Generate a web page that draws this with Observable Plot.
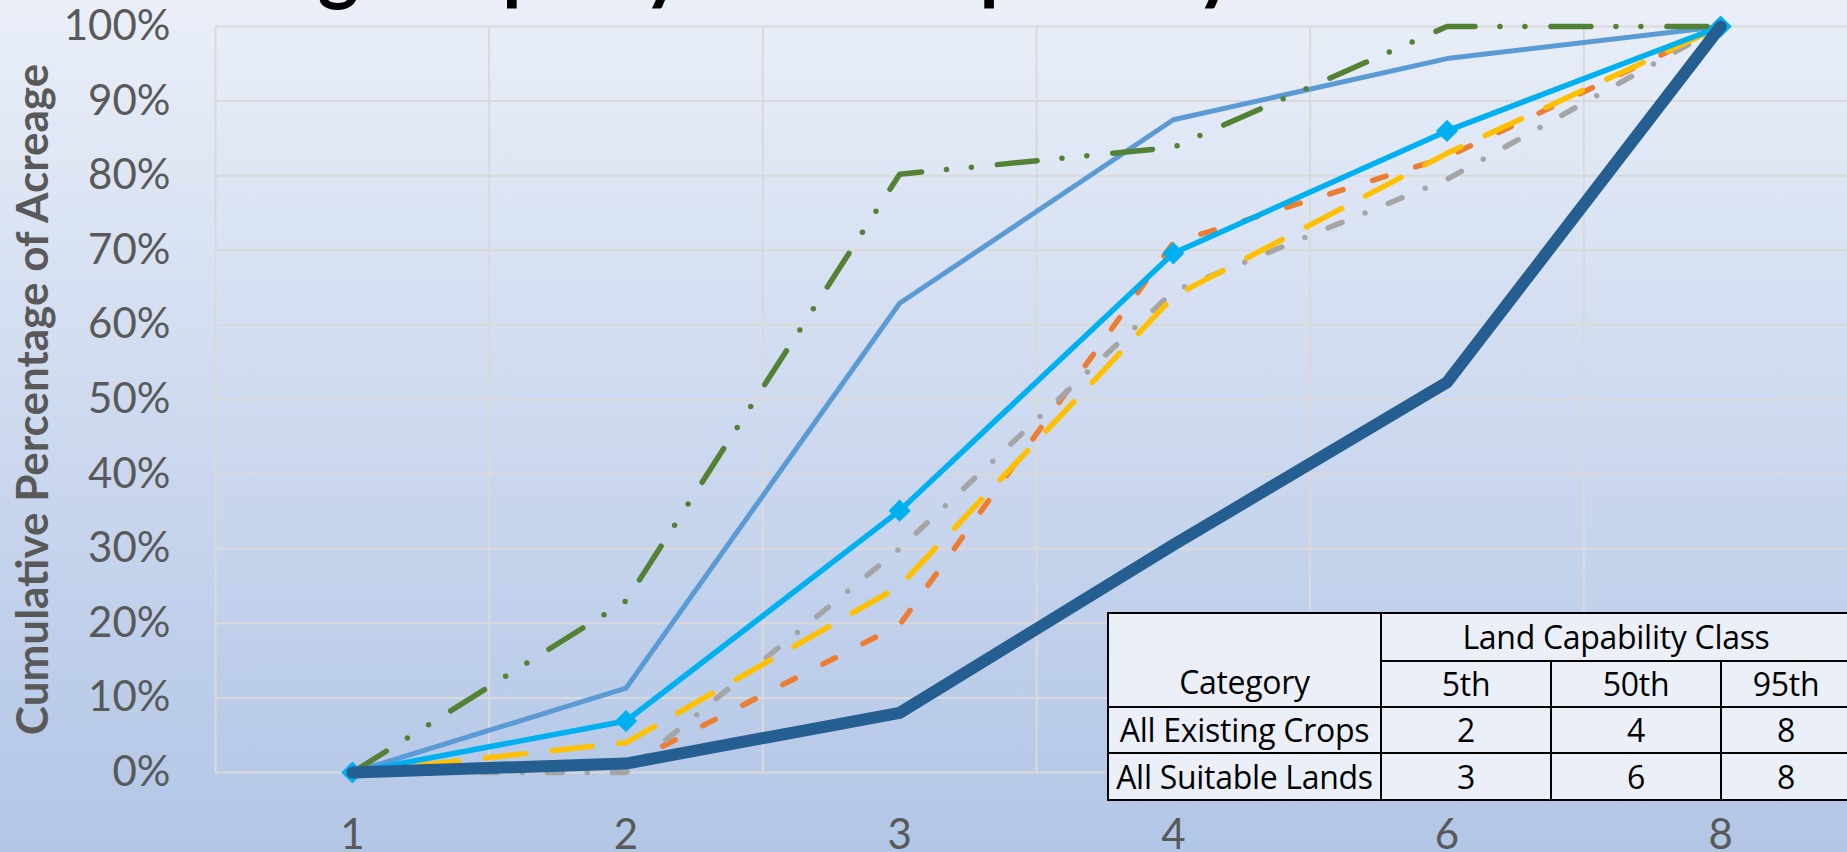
<!DOCTYPE html>
<html>
<head>
<meta charset="utf-8">
<script src="https://cdn.jsdelivr.net/npm/d3@7"></script>
<script src="https://cdn.jsdelivr.net/npm/@observablehq/plot@0.6"></script>
<style>
  html, body { margin: 0; padding: 0; overflow: hidden; }
  #chart {
    position: relative; width: 1847px; height: 852px; overflow: hidden;
    background: linear-gradient(180deg, #EAEFF8 0%, #CDD9EF 50%, #B2C6E6 100%);
  }
  #title {
    position: absolute; left: 84px; top: -74px; white-space: nowrap;
    font-family: Lato, sans-serif; font-weight: bold; font-size: 78px; line-height: 78px; color: #000;
  }
  #tbl {
    position: absolute; left: 1107px; top: 612px; border-collapse: collapse;
    background: #EBEFF8; font-family: "Open Sans", sans-serif; font-size: 32px; color: #000;
    table-layout: fixed;
  }
  #tbl td { border: 2px solid #000; padding: 0; text-align: center; line-height: 1; white-space: nowrap; overflow: hidden; letter-spacing: -0.3px; }
  #tbl td.cat { vertical-align: bottom; padding-bottom: 8px; }
  svg { display: block; }
</style>
</head>
<body>
<div id="chart">
  <div id="plot"></div>
  <div id="title">Existing Crops by Land Capability Class</div>
</div>
<script>
// ---- data ----
const classes = ["1", "2", "3", "4", "6", "8"];
const yTicks = [0, 10, 20, 30, 40, 50, 60, 70, 80, 90, 100];
const seriesNames = ["Series 1", "Series 2", "Series 3", "Series 4", "Series 5", "Series 6", "Series 7"];
const series1 = [0, 23.0, 80.2, 83.8, 100, 100];   // green long-dash-dot-dot
const series2 = [0, 11.3, 62.9, 87.5, 95.7, 100];  // light blue
const series3 = [0, 6.9, 35.1, 69.6, 86.0, 100];   // cyan with markers
const series4 = [0, 1.0, 19.8, 71.0, 82.5, 100];   // orange dash
const series5 = [0, 4.0, 25.0, 63.8, 83.0, 100];   // yellow long dash
const series6 = [0, 0.0, 30.0, 64.5, 79.5, 100];   // gray dash-dot
const series7 = [0, 1.2, 8.0, 30.5, 52.3, 100];    // dark blue thick
const yTitle = "Cumulative Percentage of Acreage";
const tableHeader = "Land Capability Class";
const tableCategoryLabel = "Category";
const percentiles = ["5th", "50th", "95th"];
const tableCategories = ["All Existing Crops", "All Suitable Lands"];
const tableValues = [[2, 4, 8], [3, 6, 8]];

// ---- build ----
const allSeries = [series1, series2, series3, series4, series5, series6, series7];
const rows = (k) => allSeries[k].map((v, i) => ({series: seriesNames[k], i, v}));
const bounds = d3.range(-0.5, classes.length, 1);

const lineStyle = {
  0: {stroke: "#548235", strokeWidth: 5.5, strokeDasharray: "40 25 0 25 0 26"},
  1: {stroke: "#5B9BD5", strokeWidth: 5},
  2: {stroke: "#00B0F0", strokeWidth: 5.5},
  3: {stroke: "#ED7D31", strokeWidth: 5.5, strokeDasharray: "14 31"},
  4: {stroke: "#FFC000", strokeWidth: 5.5, strokeDasharray: "40 27"},
  5: {stroke: "#A5A5A5", strokeWidth: 5.5, strokeDasharray: "15 25 0 25"},
  6: {stroke: "#255E91", strokeWidth: 12}
};
const lineMark = (k) => Plot.line(rows(k), {
  x: "i", y: "v", strokeLinecap: "round", strokeLinejoin: "round", ...lineStyle[k]
});

const chart = Plot.plot({
  width: 1847,
  height: 852,
  marginLeft: 215,
  marginRight: 0,
  marginTop: 26,
  marginBottom: 80,
  style: {fontFamily: "Lato, sans-serif", fontSize: "42px", color: "#595959", background: "none"},
  x: {type: "linear", domain: [-0.5, classes.length - 0.5], range: [215, 1857],
      ticks: d3.range(classes.length), tickFormat: (i) => classes[i],
      tickSize: 0, tickPadding: 47, label: null},
  y: {domain: [0, 100], ticks: yTicks, tickFormat: (d) => d + "%",
      tickSize: 0, tickPadding: 45, label: null},
  marks: [
    Plot.ruleY(yTicks, {stroke: "#D9D9D9", strokeWidth: 2}),
    Plot.ruleX(bounds, {y1: 0, y2: 100, stroke: "#D9D9D9", strokeWidth: 2}),
    lineMark(3),
    lineMark(5),
    lineMark(4),
    lineMark(1),
    lineMark(0),
    lineMark(2),
    Plot.dot(rows(2), {x: "i", y: "v", symbol: "diamond2", r: 10, fill: "#00B0F0", stroke: "none"}),
    lineMark(6),
    Plot.text([yTitle], {frameAnchor: "left", textAnchor: "middle", rotate: -90, dx: -182, fontSize: 44,
      fontWeight: "bold", fill: "#595959"})
  ]
});
document.getElementById("plot").appendChild(chart);

// table
const tbl = document.createElement("table");
tbl.id = "tbl";
const colW = [273, 170, 170, 130];
tbl.style.width = d3.sum(colW) + "px";
const cg = document.createElement("colgroup");
colW.forEach(w => { const c = document.createElement("col"); c.style.width = w + "px"; cg.appendChild(c); });
tbl.appendChild(cg);
const r1 = tbl.insertRow();
r1.style.height = "48px";
const cCat = r1.insertCell(); cCat.rowSpan = 2; cCat.className = "cat"; cCat.textContent = tableCategoryLabel;
const cHead = r1.insertCell(); cHead.colSpan = 3; cHead.textContent = tableHeader;
const r2 = tbl.insertRow();
r2.style.height = "46px";
percentiles.forEach(p => { r2.insertCell().textContent = p; });
tableCategories.forEach((cat, k) => {
  const r = tbl.insertRow();
  r.style.height = k === 0 ? "46px" : "47px";
  r.insertCell().textContent = cat;
  tableValues[k].forEach(v => { r.insertCell().textContent = v; });
});
document.getElementById("chart").appendChild(tbl);
</script>
</body>
</html>
